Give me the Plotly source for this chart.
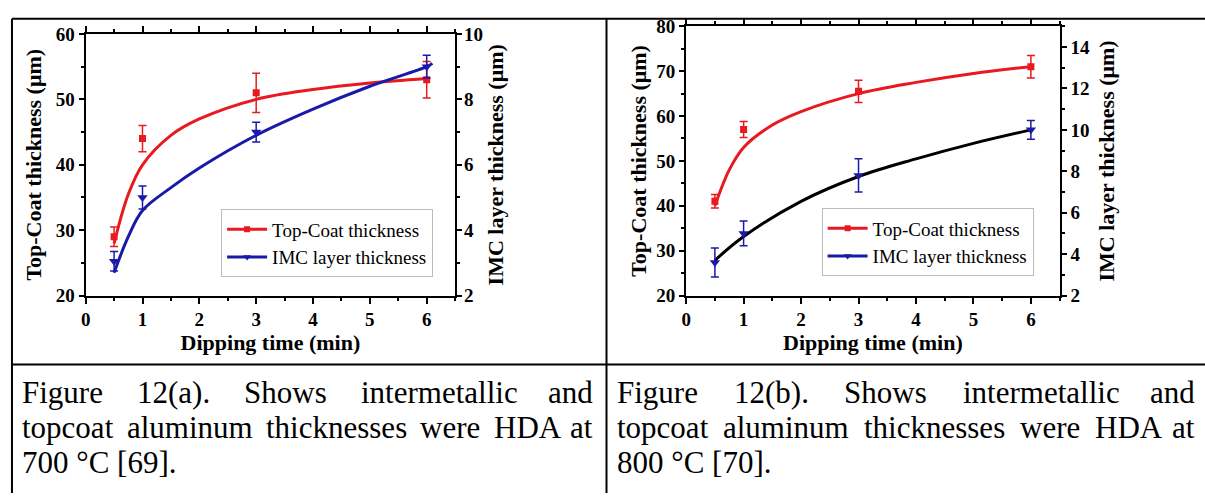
import plotly.graph_objects as go

W, H = 1205, 504

# ---------------- data ----------------
dip_time = [0.5, 1, 3, 6]

# (a) 700 °C
a_top = [29, 44, 51, 53]
a_top_err = [1.5, 2.0, 3.0, 2.8]
a_imc = [3.05, 5.0, 7.0, 9.0]
a_imc_err = [0.3, 0.35, 0.3, 0.35]
a_fit_x = [0.5, 0.75, 1, 1.5, 2, 3, 4, 5, 6]
a_top_fit = [28, 35.5, 40, 44.5, 47, 50, 51.5, 52.5, 53.2]
a_fit2_x = [0.5, 0.75, 1, 1.5, 2, 3, 4, 5, 6, 6.1]
a_imc_fit = [2.7, 3.8, 4.6, 5.3, 5.9, 6.9, 7.7, 8.4, 9.0, 9.1]

# (b) 800 °C
b_top = [41, 57, 65.5, 71]
b_top_err = [1.5, 1.8, 2.5, 2.5]
b_imc = [3.6, 5.0, 7.8, 10.0]
b_imc_err = [0.7, 0.6, 0.8, 0.45]
b_fit_x = [0.5, 0.75, 1, 1.5, 2, 3, 4, 5, 6]
b_top_fit = [40, 48, 53, 58, 61, 65, 67.5, 69.5, 71]
b_fit2_x = [0.5, 1, 2, 3, 4, 5, 6]
b_imc_fit = [3.7, 4.85, 6.55, 7.75, 8.6, 9.35, 10.0]

caption_line1 = ["Figure 12(a). Shows intermetallic and", "Figure 12(b). Shows intermetallic and"]
caption_line2 = "topcoat aluminum thicknesses were HDA at"
caption_line3 = ["700 °C [69].", "800 °C [70]."]

RED = "#e8191f"
BLUE = "#1a1aa8"
SERIF = "Liberation Serif, Times New Roman, serif"

# Times / Liberation Serif regular advance widths (em) for text justification
CW = {" ": .25, "(": .333, ")": .333, ".": .25, "[": .333, "]": .333, "°": .4,
      "A": .722, "C": .667, "D": .722, "F": .556, "H": .722, "S": .556,
      "a": .444, "b": .5, "c": .444, "d": .5, "e": .444, "g": .5, "h": .5, "i": .278,
      "k": .5, "l": .278, "m": .778, "n": .5, "o": .5, "p": .5, "r": .333, "s": .389,
      "t": .278, "u": .5, "w": .722}

def text_w(s, size):
    return sum(CW.get(ch, .5) for ch in s) * size

def px(x):
    return x / W

def py(y):
    return 1 - y / H

fig = go.Figure()

def add_chart(xa, ya, ya2, top, top_err, imc, imc_err, fx, tfit, fx2, ifit, fitcol2, legend):
    fig.add_trace(go.Scatter(x=fx, y=tfit, mode="lines", line=dict(color=RED, width=3, shape="spline"),
                             xaxis=xa, yaxis=ya, showlegend=False, hoverinfo="skip"))
    fig.add_trace(go.Scatter(x=fx2, y=ifit, mode="lines", line=dict(color=fitcol2, width=3, shape="spline"),
                             xaxis=xa, yaxis=ya2, showlegend=False, hoverinfo="skip"))
    fig.add_trace(go.Scatter(x=dip_time, y=top, mode="markers",
                             marker=dict(symbol="square", size=7, color=RED),
                             error_y=dict(type="data", array=top_err, color=RED, thickness=1.5, width=4),
                             xaxis=xa, yaxis=ya, showlegend=False))
    fig.add_trace(go.Scatter(x=dip_time, y=imc, mode="markers",
                             marker=dict(symbol="triangle-down", size=9, color=BLUE),
                             error_y=dict(type="data", array=imc_err, color=BLUE, thickness=1.5, width=4),
                             xaxis=xa, yaxis=ya2, showlegend=False))
    fig.add_trace(go.Scatter(x=[None], y=[None], mode="lines+markers", name="Top-Coat thickness",
                             line=dict(color=RED, width=3), marker=dict(symbol="square", size=6, color=RED),
                             xaxis=xa, yaxis=ya, legend=legend))
    fig.add_trace(go.Scatter(x=[None], y=[None], mode="lines+markers", name="IMC layer thickness",
                             line=dict(color=BLUE, width=3), marker=dict(symbol="triangle-down", size=7, color=BLUE),
                             xaxis=xa, yaxis=ya2, legend=legend))

add_chart("x", "y", "y2", a_top, a_top_err, a_imc, a_imc_err, a_fit_x, a_top_fit, a_fit2_x, a_imc_fit, BLUE, "legend")
add_chart("x2", "y3", "y4", b_top, b_top_err, b_imc, b_imc_err, b_fit_x, b_top_fit, b_fit2_x, b_imc_fit, "black", "legend2")

tickfont = dict(family=SERIF, size=19, color="black", weight="bold")
titlefont = dict(family=SERIF, size=22, color="black", weight="bold")

def xaxis(dom, anchor):
    return dict(domain=dom, anchor=anchor, range=[0, 6.5], dtick=1, tick0=0,
                showline=True, linecolor="black", linewidth=2, mirror="ticks",
                ticks="outside", ticklen=6, tickwidth=2, tickcolor="black",
                minor=dict(dtick=0.5, ticks="outside", ticklen=3, tickwidth=1.5, tickcolor="black"),
                showgrid=False, zeroline=False, tickfont=tickfont,
                title=dict(text="Dipping time (min)", font=titlefont, standoff=5))

def yaxis(dom, anchor, rng, dtick, mdtick, title, side="left", overlaying=None, standoff=4, labelstandoff=0):
    d = dict(domain=dom, anchor=anchor, range=rng, dtick=dtick, side=side,
             showline=True, linecolor="black", linewidth=2,
             ticks="outside", ticklen=5, tickwidth=2, tickcolor="black",
             minor=dict(dtick=mdtick, ticks="outside", ticklen=3, tickwidth=1.5, tickcolor="black"),
             showgrid=False, zeroline=False, tickfont=tickfont, ticklabelstandoff=labelstandoff,
             title=dict(text=title, font=titlefont, standoff=standoff))
    if overlaying:
        d["overlaying"] = overlaying
    return d

xa_dom = [px(81), px(452)]
xb_dom = [px(684), px(1059)]
ya_dom = [py(298), py(25)]
yb_dom = [py(298), py(17)]

legend_common = dict(xanchor="left", yanchor="top", bgcolor="white", bordercolor="#bbbbbb", borderwidth=1,
                     font=dict(family=SERIF, size=19, color="black"), tracegroupgap=0, itemwidth=40)

fig.update_layout(
    width=W, height=H, margin=dict(l=0, r=0, t=0, b=0),
    paper_bgcolor="white", plot_bgcolor="white",
    xaxis=xaxis(xa_dom, "y"),
    yaxis=yaxis(ya_dom, "x", [20, 60], 10, 5, "Top-Coat thickness (μm)", standoff=8),
    yaxis2=yaxis(ya_dom, "x", [2, 10], 2, 1, "IMC layer thickness (μm)", side="right", overlaying="y",
                 standoff=0, labelstandoff=-2),
    xaxis2=xaxis(xb_dom, "y3"),
    yaxis3=yaxis(yb_dom, "x2", [20, 80], 10, 5, "Top-Coat thickness (μm)", standoff=4),
    yaxis4=yaxis(yb_dom, "x2", [2, 15], 2, 1, "IMC layer thickness (μm)", side="right", overlaying="y3", standoff=10),
    legend=dict(x=px(217), y=py(208), **legend_common),
    legend2=dict(x=px(820), y=py(207), **legend_common),
)

# table borders
shapes = []
def line(x0, y0, x1, y1):
    shapes.append(dict(type="line", xref="paper", yref="paper", x0=px(x0), y0=py(y0), x1=px(x1), y1=py(y1),
                       line=dict(color="black", width=2)))
line(7, 9, 1205, 9)
line(7, 370, 1205, 370)
line(7, 9, 7, 504)
line(604, 9, 604, 504)
fig.update_layout(shapes=shapes)

# captions (justified first two lines)
CAP = 31
cap_font = dict(family=SERIF, size=CAP, color="black")
cells = [(15, 592), (613, 1197)]
line_y = [399, 436, 472]

def justified(text, x0, x1, y):
    words = text.split(" ")
    widths = [text_w(w, CAP) for w in words]
    gap = (x1 - x0 - sum(widths)) / (len(words) - 1)
    x = x0
    for i, (w, wd) in enumerate(zip(words, widths)):
        if i == len(words) - 1:
            fig.add_annotation(x=px(x1), y=py(y), xref="paper", yref="paper", text=w, showarrow=False,
                               xanchor="right", yanchor="middle", font=cap_font)
        else:
            fig.add_annotation(x=px(x), y=py(y), xref="paper", yref="paper", text=w, showarrow=False,
                               xanchor="left", yanchor="middle", font=cap_font)
        x += wd + gap

for ci, (x0, x1) in enumerate(cells):
    justified(caption_line1[ci], x0, x1, line_y[0])
    justified(caption_line2, x0, x1, line_y[1])
    fig.add_annotation(x=px(x0), y=py(line_y[2]), xref="paper", yref="paper", text=caption_line3[ci],
                       showarrow=False, xanchor="left", yanchor="middle", font=cap_font)

fig.write_html("out.html")
